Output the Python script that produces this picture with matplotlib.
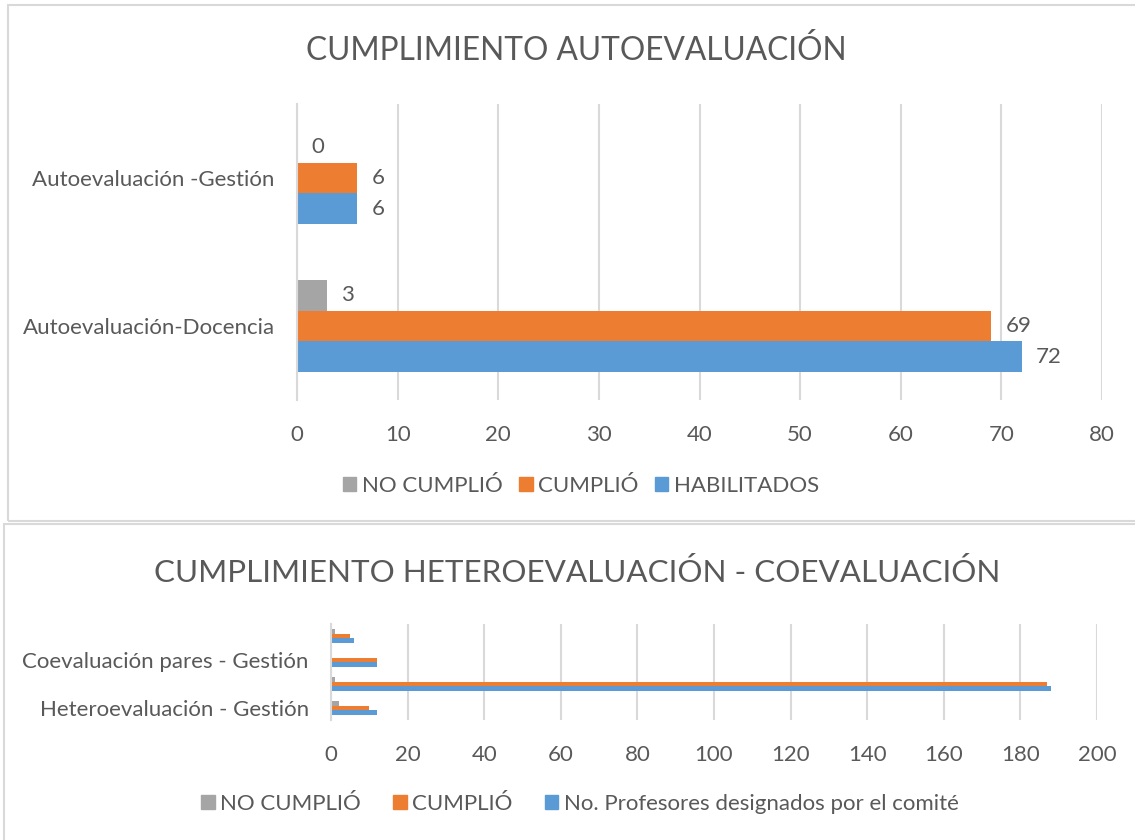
import matplotlib
matplotlib.use("Agg")
import matplotlib.pyplot as plt
import numpy as np
from matplotlib.patches import Rectangle, Patch

plt.rcParams['font.family'] = ['Lato', 'DejaVu Sans']

# ---- Data: top chart ----
top_categories = ["Autoevaluación-Docencia", "Autoevaluación -Gestión"]
top_no_cumplio = [3, 0]
top_cumplio = [69, 6]
top_habilitados = [72, 6]
top_ticks = [0, 10, 20, 30, 40, 50, 60, 70, 80]

# ---- Data: bottom chart ----
bot_categories = ["Heteroevaluación - Gestión", "Heteroevaluación - Docencia",
                  "Coevaluación pares - Gestión", "Coevaluación pares - Docencia"]
bot_tick_labels = ["Heteroevaluación - Gestión", "", "Coevaluación pares - Gestión", ""]
bot_no_cumplio = [2, 1, 0, 1]
bot_cumplio = [10, 187, 12, 5]
bot_designados = [12, 188, 12, 6]
bot_ticks = [0, 20, 40, 60, 80, 100, 120, 140, 160, 180, 200]

GRAY = "#A5A5A5"
ORANGE = "#ED7D31"
BLUE = "#5B9BD5"
TXT = "#595959"
GRID = "#D9D9D9"
FS = 16

W, H = 1135, 840
fig = plt.figure(figsize=(W / 100, H / 100), dpi=100)

def fx(px):
    return px / W

def fy(py):
    return 1 - py / H

# Panel borders
fig.patches.append(Rectangle((fx(8), fy(521)), fx(1140 - 8), fy(5) - fy(521),
                             transform=fig.transFigure, fill=False,
                             edgecolor=GRID, lw=1.5))
fig.patches.append(Rectangle((fx(4), fy(845)), fx(1140 - 4), fy(524) - fy(845),
                             transform=fig.transFigure, fill=False,
                             edgecolor=GRID, lw=1.5))

def style_axes(ax, ticks, xmax):
    ax.set_xlim(0, xmax)
    ax.set_xticks(ticks)
    for s in ["top", "right", "bottom"]:
        ax.spines[s].set_visible(False)
    ax.spines["left"].set_color(GRID)
    ax.spines["left"].set_linewidth(1.5)
    ax.grid(axis="x", color=GRID, lw=1.5)
    ax.set_axisbelow(True)
    ax.tick_params(axis="both", length=0, colors=TXT, labelsize=FS)
    ax.tick_params(axis="x", pad=18)
    ax.tick_params(axis="y", pad=16)

# ---- Top chart ----
ax1 = fig.add_axes([fx(297), fy(400), fx(1102 - 297), fy(104) - fy(400)])
n1 = len(top_categories)
y1 = np.arange(n1)
h = 0.208
b_blue = ax1.barh(y1 - h, top_habilitados, height=h, color=BLUE)
b_or = ax1.barh(y1, top_cumplio, height=h, color=ORANGE)
b_gr = ax1.barh(y1 + h, top_no_cumplio, height=h, color=GRAY)
ax1.set_ylim(-0.5, n1 - 0.5)
ax1.set_yticks(y1)
ax1.set_yticklabels(top_categories)
style_axes(ax1, top_ticks, 80)
for bars, vals in [(b_blue, top_habilitados), (b_or, top_cumplio), (b_gr, top_no_cumplio)]:
    for rect, v in zip(bars, vals):
        ax1.annotate(f"{v}", (rect.get_width(), rect.get_y() + rect.get_height() / 2),
                     xytext=(14, 0), textcoords="offset pixels",
                     va="center", ha="left", fontsize=FS, color=TXT)

fig.text(fx(576), fy(51), "CUMPLIMIENTO AUTOEVALUACIÓN", ha="center", va="center",
         fontsize=22.8, color=TXT)
fig.legend(handles=[Patch(color=GRAY, label="NO CUMPLIÓ"),
                    Patch(color=ORANGE, label="CUMPLIÓ"),
                    Patch(color=BLUE, label="HABILITADOS")],
           loc="center", bbox_to_anchor=(fx(581), fy(486)), ncol=3, frameon=False,
           fontsize=FS, labelcolor=TXT, handlelength=0.6, handleheight=0.6,
           handletextpad=0.25, columnspacing=0.75)

# ---- Bottom chart ----
ax2 = fig.add_axes([fx(331), fy(720), fx(1097 - 331), fy(624) - fy(720)])
n2 = len(bot_categories)
y2 = np.arange(n2)
ax2.barh(y2 - h, bot_designados, height=h, color=BLUE)
ax2.barh(y2, bot_cumplio, height=h, color=ORANGE)
ax2.barh(y2 + h, bot_no_cumplio, height=h, color=GRAY)
ax2.set_ylim(-0.5, n2 - 0.5)
ax2.set_yticks(y2)
ax2.set_yticklabels(bot_tick_labels)
style_axes(ax2, bot_ticks, 200)

fig.text(fx(577), fy(573), "CUMPLIMIENTO HETEROEVALUACIÓN - COEVALUACIÓN", ha="center",
         va="center", fontsize=22.6, color=TXT)
fig.legend(handles=[Patch(color=GRAY, label="NO CUMPLIÓ"),
                    Patch(color=ORANGE, label="CUMPLIÓ"),
                    Patch(color=BLUE, label="No. Profesores designados por el comité")],
           loc="center", bbox_to_anchor=(fx(580), fy(804)), ncol=3, frameon=False,
           fontsize=FS, labelcolor=TXT, handlelength=0.6, handleheight=0.6,
           handletextpad=0.25, columnspacing=1.45)

fig.savefig("out.png", dpi=100, facecolor="white")
